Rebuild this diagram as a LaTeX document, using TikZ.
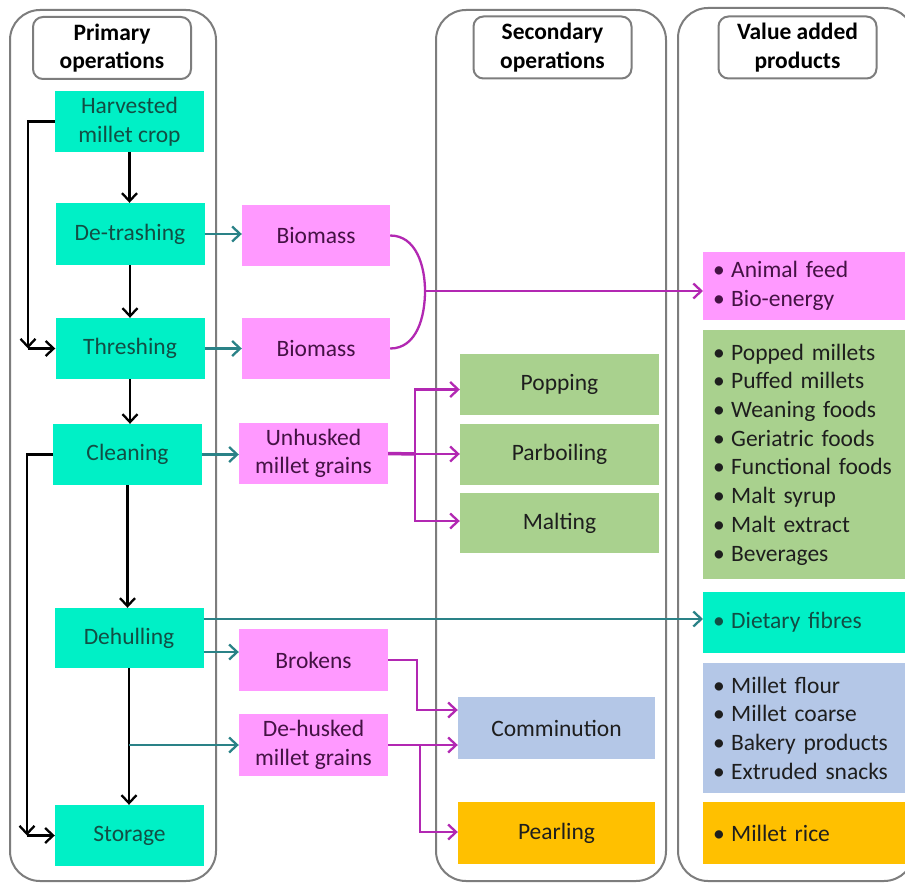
\documentclass[tikz,border=0pt]{standalone}
\usepackage{fontspec}
\setmainfont{Carlito}
\usetikzlibrary{arrows.meta,calc}
\definecolor{tealfill}{RGB}{0,240,198}
\definecolor{tealtext}{RGB}{18,78,68}
\definecolor{pinkfill}{RGB}{255,153,255}
\definecolor{pinktext}{RGB}{68,18,68}
\definecolor{greenfill}{RGB}{169,209,142}
\definecolor{bluefill}{RGB}{180,199,231}
\definecolor{orangefill}{RGB}{255,192,0}
\definecolor{darktext}{RGB}{30,30,30}
\definecolor{tealline}{RGB}{42,130,135}
\definecolor{magline}{RGB}{178,40,178}
\definecolor{colgray}{RGB}{125,125,125}
\newcommand{\bul}[1]{\makebox[18pt][l]{•}#1}
\begin{document}
\begin{tikzpicture}[x=1pt,y=-1pt,
  every node/.style={font=\fontsize{23.5}{28.7}\selectfont, inner sep=0pt},
  column/.style={draw=colgray, line width=2pt, rounded corners=30pt},
  header/.style={draw=colgray, line width=2pt, fill=white, rounded corners=10pt, minimum width=158pt, minimum height=62pt, align=center, font=\fontsize{23.5}{28.7}\selectfont\bfseries},
  primbox/.style={fill=tealfill, text=tealtext, minimum width=149pt, minimum height=61pt, align=center},
  pinkbox/.style={fill=pinkfill, text=pinktext, minimum width=149pt, minimum height=61pt, align=center},
  secbox/.style={minimum width=199pt, minimum height=61pt, align=center, text=darktext},
  valbox/.style={anchor=west, minimum width=220pt, text width=200pt, inner xsep=10pt, align=left, text=darktext},
  tip/.style={-{Straight Barb[length=8pt,width=15pt]}},
  blk/.style={draw=black, line width=2.3pt},
  tl/.style={draw=tealline, line width=2.3pt},
  mg/.style={draw=magline, line width=2.3pt}
]
\clip (0,0) rectangle (905,883);
\fill[white] (0,0) rectangle (905,883);
% columns
\draw[column] (10,10) rectangle (216,881);
\draw[column] (436,10) rectangle (666,881);
\draw[column] (678,8) rectangle (914,881);
% headers
\node[header] (hprim) at (112,48) {Primary\\operations};
\node[header] (hsec) at (552.5,47.5) {Secondary\\operations};
\node[header] (hval) at (797.5,47.5) {Value added\\products};
% primary
\node[primbox] (harv) at (129.5,121.5) {Harvested\\millet crop};
\node[primbox, minimum height=62pt] (detr) at (130,234) {De-trashing};
\node[primbox] (thresh) at (130,348.5) {Threshing};
\node[primbox] (clean) at (127.5,454.5) {Cleaning};
\node[primbox, minimum height=60pt] (dehull) at (129,638) {Dehulling};
\node[primbox] (storage) at (129.5,835.5) {Storage};
% by-products
\node[pinkbox, minimum width=148pt] (bio1) at (316,235.5) {Biomass};
\node[pinkbox, minimum width=148pt] (bio2) at (316,348.5) {Biomass};
\node[pinkbox] (unhusk) at (313.5,453.5) {Unhusked\\millet grains};
\node[pinkbox, minimum height=62pt] (brokens) at (313.5,660) {Brokens};
\node[pinkbox, minimum height=62pt] (dehusk) at (313.5,745) {De-husked\\millet grains};
% secondary
\node[secbox, fill=greenfill] (popping) at (559.5,384.5) {Popping};
\node[secbox, fill=greenfill] (parboil) at (559.5,454.5) {Parboiling};
\node[secbox, fill=greenfill, minimum height=60pt] (malting) at (559.5,523) {Malting};
\node[secbox, fill=bluefill, minimum width=197pt, minimum height=62pt] (commin) at (556.5,728) {Comminution};
\node[secbox, fill=orangefill, minimum width=197pt, minimum height=62pt] (pearl) at (556.5,833) {Pearling};
% value added
\node[valbox, fill=pinkfill, text=pinktext, minimum height=68pt] (vfeed) at (703,286) {\bul{Animal feed}\\\bul{Bio-energy}};
\node[valbox, fill=greenfill, minimum height=249pt] (vgreen) at (703,454.5) {\bul{Popped millets}\\\bul{Puffed millets}\\\bul{Weaning foods}\\\bul{Geriatric foods}\\\bul{Functional foods}\\\bul{Malt syrup}\\\bul{Malt extract}\\\bul{Beverages}};
\node[valbox, fill=tealfill, text=tealtext, minimum height=61pt] (vfibre) at (703,622.5) {\bul{Dietary fibres}};
\node[valbox, fill=bluefill, minimum height=130pt] (vflour) at (703,728) {\bul{Millet flour}\\\bul{Millet coarse}\\\bul{Bakery products}\\\bul{Extruded snacks}};
\node[valbox, fill=orangefill, minimum height=62pt] (vrice) at (703,833) {\bul{Millet rice}};
% black main flow
\draw[blk,tip] (harv.south) -- (harv.south |- detr.north);
\draw[blk,tip] (detr.south) -- (detr.south |- thresh.north);
\draw[blk,tip] (thresh.south) -- (thresh.south |- clean.north);
\draw[blk,tip] (clean.south) -- (clean.south |- dehull.north);
\draw[blk,tip] (dehull.south) -- (dehull.south |- storage.north);
% bypasses
\coordinate (by1) at (28,348.5);
\draw[blk,tip] (harv.west) -| (by1);
\draw[blk,tip] (by1) -- (thresh.west);
\coordinate (by2) at (27,835.5);
\draw[blk,tip] (clean.west) -| (by2);
\draw[blk,tip] (by2) -- (storage.west);
% teal arrows
\draw[tl,tip] (detr.east) -- (detr.east -| bio1.west);
\draw[tl,tip] (thresh.east) -- (thresh.east -| bio2.west);
\draw[tl,tip] (clean.east) -- (clean.east -| unhusk.west);
\draw[tl,tip] ([yshift=-14pt]dehull.east) -- ([yshift=-14pt]dehull.east -| brokens.west);
\draw[tl,tip] ([yshift=19pt]dehull.east) -- ([yshift=19pt]dehull.east -| vfibre.west);
\draw[tl,tip] (dehull.south |- dehusk.west) -- (dehusk.west);
% magenta: biomass to feed
\coordinate (jn) at (425,291);
\draw[mg] (bio1.east) to[out=0,in=90] (jn) to[out=-90,in=0] (bio2.east);
\draw[mg,tip] (jn) -- (jn -| vfeed.west);
% magenta: unhusked to secondary
\coordinate (sp) at (415,454);
\draw[mg, line width=3.5pt] (unhusk.east) -- (sp);
\draw[mg,tip] (sp) |- ([yshift=-5pt]popping.west);
\draw[mg,tip] (sp) -- (sp -| parboil.west);
\draw[mg,tip] (sp) |- ([yshift=2pt]malting.west);
% magenta: brokens / de-husked
\coordinate (bk) at (417,660);
\draw[mg,tip] (brokens.east) -- (bk) |- ([yshift=18pt]commin.west);
\draw[mg,tip] (dehusk.east) -- (dehusk.east -| commin.west);
\coordinate (dk) at (420,745);
\draw[mg,tip] (dk) |- ([yshift=1pt]pearl.west);
\end{tikzpicture}
\end{document}
